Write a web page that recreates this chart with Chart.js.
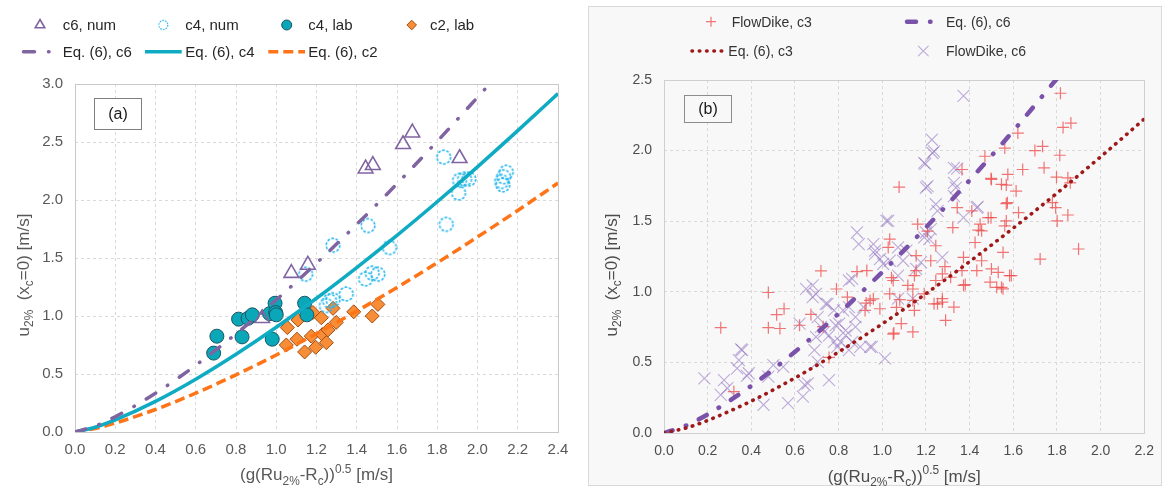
<!DOCTYPE html>
<html>
<head>
<meta charset="utf-8">
<script src="https://cdn.jsdelivr.net/npm/chart.js@4.4.1/dist/chart.umd.min.js"></script>
<style>
  body { margin: 0; width: 1164px; height: 488px; background: #fff; position: relative; overflow: hidden; }
  #wrapA { position: absolute; left: 0; top: 0; width: 580px; height: 488px; }
  #frameB { position: absolute; left: 588px; top: 6px; width: 574px; height: 480px; background: #f8f8f8;
            border: 1px solid #d9d9d9; box-sizing: border-box; }
  #wrapB { position: absolute; left: 585px; top: 0; width: 579px; height: 488px; }
</style>
</head>
<body>
<div id="wrapA"><canvas id="chA" width="580" height="488"></canvas></div>
<div id="frameB"></div>
<div id="wrapB"><canvas id="chB" width="579" height="488"></canvas></div>
<script>
const FONT = '"Liberation Sans", Arial, sans-serif';

// ---- panel (a): axis limits
const xLimA = [0, 2.4], yLimA = [0, 3.0];
const xStepA = 0.2, yStepA = 0.5;

// numerical / lab points, [x, y]
const c6Num = [[0.93,0.98],[1.075,1.37],[1.157,1.44],[1.444,2.27],[1.48,2.30],[1.63,2.48],[1.676,2.58],[1.911,2.36]];
const c4Num = [[1.146,1.36],[1.249,1.09],[1.265,1.13],[1.282,1.14],[1.348,1.19],[1.282,1.61],[1.444,1.32],
  [1.456,1.78],[1.477,1.37],[1.505,1.36],[1.563,1.59],[1.832,2.37],[1.845,1.79],[1.906,2.06],[1.911,2.17],
  [1.936,2.18],[1.957,2.18],[2.12,2.16],[2.126,2.13],[2.13,2.20],[2.143,2.24]];
const c4Lab = [[0.689,0.68],[0.705,0.826],[0.813,0.973],[0.83,0.82],[0.86,0.98],[0.881,1.01],[0.967,1.02],
  [0.98,0.80],[0.994,1.11],[0.997,1.03],[1.0,1.01],[1.141,1.11],[1.152,1.01]];
const c2Lab = [[1.05,0.75],[1.055,0.90],[1.103,0.80],[1.108,0.965],[1.141,0.69],[1.174,0.826],[1.182,1.03],
  [1.196,0.73],[1.224,0.985],[1.229,0.84],[1.249,0.77],[1.257,0.88],[1.282,1.066],[1.298,0.945],
  [1.385,1.036],[1.477,1.0],[1.505,1.10]];

// Eq. (6) curves, panel (a)
const eqC6AX = [0, 0.1, 0.2, 0.4, 0.6, 0.8, 1.0, 1.2, 1.4, 1.6, 1.8, 2.0, 2.06];
const eqC6AY = [0, 0.052, 0.132, 0.334, 0.575, 0.846, 1.14, 1.456, 1.79, 2.14, 2.506, 2.885, 3.0];
const eqAX   = [0, 0.1, 0.2, 0.4, 0.6, 0.8, 1.0, 1.2, 1.4, 1.6, 1.8, 2.0, 2.2, 2.4];
const eqC4AY = [0, 0.041, 0.104, 0.264, 0.455, 0.670, 0.903, 1.153, 1.418, 1.695, 1.985, 2.286, 2.598, 2.918];
const eqC2AY = [0, 0.030, 0.077, 0.194, 0.335, 0.493, 0.664, 0.848, 1.042, 1.246, 1.459, 1.681, 1.910, 2.146];

// ---- panel (b): axis limits
const xLimB = [0, 2.2], yLimB = [0, 2.5];
const xStepB = 0.2, yStepB = 0.5;

// FlowDike results, [x, y]
const flowC3 = [[0.26,0.746],[0.32,0.293],[0.478,0.995],[0.478,0.746],[0.516,0.838],[0.531,0.74],[0.55,0.88],
  [0.621,0.763],[0.673,0.84],[0.719,1.148],[0.729,0.753],[0.756,0.535],[0.79,1.02],[0.84,0.962],[0.884,1.143],
  [0.929,1.15],[0.921,0.868],[0.926,0.92],[0.944,0.939],[0.959,0.95],[0.989,0.88],[1.027,1.314],[1.034,1.373],
  [1.042,1.10],[1.05,1.08],[1.034,0.986],[1.077,1.742],[1.08,0.944],[1.065,0.89],[1.053,0.708],[1.05,0.70],
  [1.087,0.775],[1.14,0.716],[1.117,1.045],[1.14,1.02],[1.147,1.115],[1.155,1.15],[1.155,1.256],[1.147,0.868],
  [1.14,0.939],[1.162,1.479],[1.207,1.43],[1.222,1.22],[1.245,1.326],[1.245,1.08],[1.192,0.986],[1.237,0.915],
  [1.253,0.915],[1.275,0.927],[1.275,0.951],[1.275,1.127],[1.287,1.178],[1.29,0.798],[1.313,1.103],[1.323,1.455],
  [1.328,0.892],[1.343,1.596],[1.365,1.866],[1.365,1.15],[1.372,1.045],[1.38,1.051],[1.41,1.573],[1.44,1.437],
  [1.455,1.432],[1.425,1.349],[1.372,1.244],[1.433,1.15],[1.455,1.22],[1.5,1.796],[1.485,1.525],[1.47,1.96],
  [1.553,1.279],[1.573,1.631],[1.575,1.831],[1.546,1.761],[1.568,1.502],[1.5,1.162],[1.531,1.138],[1.494,1.068],
  [1.524,1.032],[1.546,1.032],[1.553,1.021],[1.583,1.115],[1.591,1.115],[1.816,2.406],[1.828,2.164],[1.864,2.195],
  [1.621,2.124],[1.561,2.018],[1.699,2.0],[1.734,2.03],[1.813,1.967],[1.741,1.878],[1.643,1.866],[1.798,1.812],
  [1.85,1.807],[1.861,1.772],[1.568,1.756],[1.613,1.713],[1.498,1.803],[1.568,1.624],[1.624,1.561],[1.779,1.631],
  [1.794,1.596],[1.85,1.544],[1.801,1.502],[1.899,1.303],[1.723,1.232],[1.498,1.525],[1.561,1.467],[1.448,1.479]];
const flowC6 = [[0.185,0.387],[0.275,0.375],[0.26,0.27],[0.29,0.317],[0.335,0.458],[0.353,0.592],[0.343,0.516],
  [0.38,0.404],[0.358,0.587],[0.388,0.423],[0.456,0.2],[0.478,0.399],[0.546,0.469],[0.501,0.481],[0.568,0.211],
  [0.636,0.258],[0.644,0.34],[0.659,0.352],[0.651,1.021],[0.681,1.045],[0.696,0.986],[0.741,0.915],[0.704,0.504],
  [0.756,0.375],[0.779,0.645],[0.802,0.775],[0.832,0.727],[0.847,0.587],[0.899,0.61],[0.877,0.751],[0.82,0.868],
  [0.847,1.08],[0.952,0.61],[0.734,0.716],[0.696,0.68],[0.689,0.587],[0.621,0.775],[0.681,0.962],[0.704,0.821],
  [0.749,0.915],[0.719,0.751],[0.779,0.868],[0.786,0.763],[0.756,0.692],[0.809,0.645],[0.794,0.61],[0.832,0.692],
  [0.862,0.645],[0.944,0.61],[1.012,0.528],[0.884,1.42],[0.892,1.338],[0.862,1.092],[0.847,0.892],[0.914,0.892],
  [0.877,0.821],[0.967,1.291],[0.989,1.232],[1.004,1.197],[1.019,1.502],[1.027,1.502],[1.034,1.22],[1.072,1.314],
  [1.095,1.22],[1.072,1.115],[1.072,0.951],[1.11,1.291],[1.155,1.162],[1.177,1.209],[1.2,1.42],[1.215,1.373],
  [1.207,1.749],[1.192,1.913],[1.245,1.62],[1.253,1.573],[1.275,1.244],[1.328,1.772],[1.328,1.878],[1.372,1.525],
  [1.433,1.596],[1.23,1.983],[1.14,0.951],[1.372,2.387],[1.227,2.077],[1.237,1.995],[1.197,1.906],[1.343,1.873],
  [1.2,1.737],[1.337,1.737],[1.328,1.678],[1.437,1.601],[1.222,1.444],[1.192,1.385],[0.959,1.338],[0.967,1.268]];

// Eq. (6) curves, panel (b)
const eqC6BX = [0, 0.1, 0.2, 0.4, 0.6, 0.8, 1.0, 1.2, 1.4, 1.6, 1.8];
const eqC6BY = [0, 0.052, 0.132, 0.334, 0.575, 0.846, 1.14, 1.456, 1.79, 2.14, 2.51];
const eqC3BX = [0, 0.1, 0.2, 0.4, 0.6, 0.8, 1.0, 1.2, 1.4, 1.6, 1.8, 2.0, 2.2];
const eqC3BY = [0, 0.035, 0.089, 0.226, 0.39, 0.574, 0.773, 0.987, 1.214, 1.451, 1.699, 1.956, 2.224];

// axis titles with sub/superscripts
const xTitleParts = [['(g(Ru'], ['2%', 'sub'], ['-R'], ['c', 'sub'], ['))'], ['0.5', 'sup'], [' [m/s]']];
const yTitleParts = [['u'], ['2%', 'sub'], ['  (x'], ['c', 'sub'], ['=0) [m/s]']];

const pts = arr => arr.map(([x, y]) => ({x, y}));
const curve = (xs, ys) => xs.map((x, i) => ({x, y: ys[i]}));

// hollow dashed ring used as point style
function dashedRing(color) {
  const c = document.createElement('canvas');
  c.width = c.height = 18;
  const g = c.getContext('2d');
  g.strokeStyle = color;
  g.lineWidth = 1.7;
  g.setLineDash([2.7, 1.6]);
  g.beginPath();
  g.arc(9, 9, 6.8, 0, Math.PI * 2);
  g.stroke();
  return c;
}

function richWidth(ctx, parts, size) {
  let w = 0;
  parts.forEach(([t, mode]) => {
    ctx.font = (mode ? size * 0.7 : size) + 'px ' + FONT;
    w += ctx.measureText(t).width;
  });
  return w;
}

function drawRich(ctx, parts, size, x, y) {
  let cx = x;
  parts.forEach(([t, mode]) => {
    ctx.font = (mode ? size * 0.7 : size) + 'px ' + FONT;
    const dy = mode === 'sub' ? size * 0.27 : mode === 'sup' ? -size * 0.42 : 0;
    ctx.fillText(t, cx, y + dy);
    cx += ctx.measureText(t).width;
  });
}

function drawMarker(ctx, ds, x, y, r) {
  const style = ds.pointStyle;
  ctx.setLineDash([]);
  if (style instanceof HTMLCanvasElement) {
    const s = r / 6.8;
    ctx.drawImage(style, x - style.width * s / 2, y - style.height * s / 2, style.width * s, style.height * s);
    return;
  }
  ctx.fillStyle = ds.backgroundColor;
  ctx.strokeStyle = ds.borderColor;
  ctx.lineWidth = ds.borderWidth;
  ctx.beginPath();
  if (style === 'circle') {
    ctx.arc(x, y, r, 0, Math.PI * 2);
  } else if (style === 'triangle') {
    ctx.moveTo(x, y - r);
    ctx.lineTo(x + 0.866 * r, y + 0.5 * r);
    ctx.lineTo(x - 0.866 * r, y + 0.5 * r);
    ctx.closePath();
  } else if (style === 'rectRot') {
    ctx.moveTo(x, y - r); ctx.lineTo(x + r, y); ctx.lineTo(x, y + r); ctx.lineTo(x - r, y); ctx.closePath();
  } else if (style === 'cross') {
    ctx.moveTo(x - r, y); ctx.lineTo(x + r, y); ctx.moveTo(x, y - r); ctx.lineTo(x, y + r);
  } else if (style === 'crossRot') {
    const d = r * Math.SQRT1_2;
    ctx.moveTo(x - d, y - d); ctx.lineTo(x + d, y + d); ctx.moveTo(x - d, y + d); ctx.lineTo(x + d, y - d);
  }
  if (style !== 'cross' && style !== 'crossRot') ctx.fill();
  ctx.stroke();
}

// frame, (a)/(b) tag, axis titles and a grid-aligned legend
const panelDecor = {
  id: 'panelDecor',
  beforeDatasetsDraw(chart, args, o) {
    const {ctx, chartArea: a} = chart;
    ctx.save();
    ctx.strokeStyle = o.frame;
    ctx.lineWidth = 1;
    ctx.setLineDash([]);
    ctx.strokeRect(Math.round(a.left) + 0.5, Math.round(a.top) + 0.5,
                   Math.round(a.right - a.left), Math.round(a.bottom - a.top));
    const t = o.tag;
    ctx.fillStyle = t.fill;
    ctx.fillRect(t.x, t.y, t.w, t.h);
    ctx.strokeStyle = t.stroke;
    ctx.strokeRect(t.x, t.y, t.w, t.h);
    ctx.fillStyle = '#1a1a1a';
    ctx.font = '16px ' + FONT;
    ctx.textAlign = 'center';
    ctx.textBaseline = 'middle';
    ctx.fillText(t.text, t.x + t.w / 2, t.y + t.h / 2 + 1);
    ctx.restore();
  },
  afterDraw(chart, args, o) {
    const {ctx, chartArea: a} = chart;
    ctx.save();
    ctx.fillStyle = o.titleColor;
    ctx.textAlign = 'left';
    ctx.textBaseline = 'alphabetic';
    const wx = richWidth(ctx, xTitleParts, o.titleSize);
    drawRich(ctx, xTitleParts, o.titleSize, (a.left + a.right) / 2 - wx / 2, o.xTitleY);
    const wy = richWidth(ctx, yTitleParts, o.titleSize);
    ctx.translate(o.yTitleX, o.yTitleY);
    ctx.rotate(-Math.PI / 2);
    drawRich(ctx, yTitleParts, o.titleSize, -wy / 2, 0);
    ctx.restore();

    ctx.save();
    const sets = chart.data.datasets;
    o.legend.forEach(item => {
      const ds = sets[item.ds];
      if (item.line) {
        ctx.strokeStyle = ds.borderColor;
        ctx.lineWidth = ds.borderWidth;
        ctx.lineCap = ds.borderCapStyle || 'butt';
        ctx.setLineDash(ds.borderDash || []);
        ctx.beginPath();
        ctx.moveTo(item.line[0], item.y);
        ctx.lineTo(item.line[1], item.y);
        ctx.stroke();
      } else {
        drawMarker(ctx, ds, item.x, item.y, item.r);
      }
      ctx.fillStyle = o.legendColor;
      ctx.font = o.legendSize + 'px ' + FONT;
      ctx.textAlign = 'left';
      ctx.textBaseline = 'middle';
      ctx.fillText(ds.label, item.tx, item.y + 1);
    });
    ctx.restore();
  }
};

function axis(lim, step, fit, color, size, pad) {
  return {
    type: 'linear', min: lim[0], max: lim[1],
    afterFit: fit,
    ticks: { stepSize: step, padding: pad, color: color, font: { size: size, family: FONT },
             autoSkip: false, maxRotation: 0, callback: v => v.toFixed(1) },
    grid: { color: '#d9d9d9', lineWidth: 1, drawTicks: false, borderDash: [3, 3] },
    border: { display: false, dash: [3, 3] }
  };
}

const base = {
  responsive: false, animation: false, devicePixelRatio: 1,
  plugins: { legend: { display: false }, tooltip: { enabled: false } }
};

// panel (a)
new Chart(document.getElementById('chA'), {
  type: 'scatter',
  plugins: [panelDecor],
  data: {
    datasets: [
      { label: 'Eq. (6), c6', data: curve(eqC6AX, eqC6AY), showLine: true, pointRadius: 0,
        borderColor: '#8064a2', borderWidth: 3.5, borderDash: [11, 14, 0.5, 14], borderCapStyle: 'round',
        cubicInterpolationMode: 'monotone' },
      { label: 'Eq. (6), c4', data: curve(eqAX, eqC4AY), showLine: true, pointRadius: 0,
        borderColor: '#0fabc2', borderWidth: 3.5, cubicInterpolationMode: 'monotone' },
      { label: 'Eq. (6), c2', data: curve(eqAX, eqC2AY), showLine: true, pointRadius: 0,
        borderColor: '#ff7417', borderWidth: 3.5, borderDash: [10, 5], cubicInterpolationMode: 'monotone' },
      { label: 'c6, num', data: pts(c6Num), pointStyle: 'triangle', pointRadius: 8.5,
        backgroundColor: 'rgba(0,0,0,0)', borderColor: '#8064a2', borderWidth: 1.6 },
      { label: 'c4, num', data: pts(c4Num), pointStyle: dashedRing('#2fb9ee'), pointRadius: 6.8,
        backgroundColor: 'rgba(0,0,0,0)', borderColor: '#2fb9ee', borderWidth: 0 },
      { label: 'c4, lab', data: pts(c4Lab), pointStyle: 'circle', pointRadius: 7,
        backgroundColor: '#0aa7b9', borderColor: '#1b5562', borderWidth: 1 },
      { label: 'c2, lab', data: pts(c2Lab), pointStyle: 'rectRot', pointRadius: 7,
        backgroundColor: '#f78d36', borderColor: '#a24d10', borderWidth: 1 }
    ]
  },
  options: Object.assign({}, base, {
    layout: { padding: { top: 84, right: 22, left: 0, bottom: 0 } },
    scales: {
      x: axis(xLimA, xStepA, s => { s.height = 56; }, '#595959', 15, 9),
      y: axis(yLimA, yStepA, s => { s.width = 75; }, '#595959', 15, 12)
    },
    plugins: Object.assign({}, base.plugins, {
      panelDecor: {
        frame: '#c8c8c8',
        tag: { text: '(a)', x: 94.5, y: 98.5, w: 47, h: 31, fill: '#ffffff', stroke: '#7f7f7f' },
        titleColor: '#595959', titleSize: 17, xTitleY: 480, yTitleX: 28.5, yTitleY: 275,
        legendColor: '#262626', legendSize: 15,
        legend: [
          { ds: 3, x: 40, y: 25, r: 5.5, tx: 62.7 },
          { ds: 4, x: 163.3, y: 25, r: 4.5, tx: 185.3 },
          { ds: 5, x: 286.7, y: 25, r: 5, tx: 308.3 },
          { ds: 6, x: 411.7, y: 25, r: 4.8, tx: 430 },
          { ds: 0, line: [23.5, 49.2], y: 51.7, tx: 62.7 },
          { ds: 1, line: [145, 181.7], y: 51.7, tx: 185.3 },
          { ds: 2, line: [268.3, 305], y: 51.7, tx: 308.3 }
        ]
      }
    })
  })
});

// panel (b)
new Chart(document.getElementById('chB'), {
  type: 'scatter',
  plugins: [panelDecor],
  data: {
    datasets: [
      { label: 'Eq. (6), c3', data: curve(eqC3BX, eqC3BY), showLine: true, pointRadius: 0,
        borderColor: '#9e1a1a', borderWidth: 3.6, borderDash: [0.5, 6.8], borderCapStyle: 'round',
        cubicInterpolationMode: 'monotone' },
      { label: 'Eq. (6), c6', data: curve(eqC6BX, eqC6BY), showLine: true, pointRadius: 0,
        borderColor: '#7b52aa', borderWidth: 4.5, borderDash: [9, 14, 0.5, 14], borderCapStyle: 'round',
        cubicInterpolationMode: 'monotone' },
      { label: 'FlowDike, c3', data: pts(flowC3), pointStyle: 'cross', pointRadius: 6,
        backgroundColor: 'rgba(0,0,0,0)', borderColor: 'rgba(238,72,72,0.75)', borderWidth: 1.2 },
      { label: 'FlowDike, c6', data: pts(flowC6), pointStyle: 'crossRot', pointRadius: 8.5,
        backgroundColor: 'rgba(0,0,0,0)', borderColor: 'rgba(140,108,190,0.55)', borderWidth: 1.1 }
    ]
  },
  options: Object.assign({}, base, {
    layout: { padding: { top: 80, right: 12, left: 0, bottom: 0 } },
    scales: {
      x: axis(xLimB, xStepB, s => { s.height = 55; }, '#4d4d4d', 14, 10),
      y: axis(yLimB, yStepB, s => { s.width = 79; }, '#4d4d4d', 14, 12)
    },
    plugins: Object.assign({}, base.plugins, {
      panelDecor: {
        frame: '#cfcfcf',
        tag: { text: '(b)', x: 99.5, y: 95.5, w: 47, h: 27, fill: '#f8f8f8', stroke: '#8c8c8c' },
        titleColor: '#4d4d4d', titleSize: 17, xTitleY: 481.5, yTitleX: 31.5, yTitleY: 275,
        legendColor: '#333333', legendSize: 14,
        legend: [
          { ds: 2, x: 126, y: 21.7, r: 5, tx: 146.7 },
          { ds: 1, line: [322, 346], y: 21.7, tx: 361 },
          { ds: 0, line: [107, 142], y: 51, tx: 143.3 },
          { ds: 3, x: 338.3, y: 51, r: 7, tx: 361 }
        ]
      }
    })
  })
});
</script>
</body>
</html>
